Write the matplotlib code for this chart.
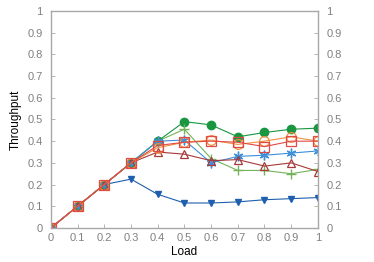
import matplotlib.pyplot as plt
import numpy as np

plt.rcParams['font.family'] = ['Liberation Sans', 'DejaVu Sans']

load = [0, 0.1, 0.2, 0.3, 0.4, 0.5, 0.6, 0.7, 0.8, 0.9, 1.0]

tri_down = [0, 0.1, 0.2, 0.225, 0.155, 0.115, 0.115, 0.12, 0.13, 0.135, 0.14]
green_dot = [0, 0.1, 0.2, 0.3, 0.4, 0.49, 0.475, 0.42, 0.44, 0.455, 0.46]
green_plus = [0, 0.1, 0.2, 0.3, 0.4, 0.455, 0.32, 0.265, 0.265, 0.25, 0.27]
blue_star = [0, 0.1, 0.2, 0.3, 0.40, 0.405, 0.30, 0.33, 0.335, 0.345, 0.355]
red_tri = [0, 0.1, 0.2, 0.3, 0.35, 0.34, 0.31, 0.315, 0.285, 0.30, 0.26]
orange_circ = [0, 0.1, 0.2, 0.3, 0.37, 0.395, 0.405, 0.385, 0.40, 0.42, 0.40]
red_sq = [0, 0.1, 0.2, 0.3, 0.38, 0.395, 0.40, 0.395, 0.375, 0.40, 0.40]

fig = plt.figure(figsize=(3.74, 2.62), dpi=100)
ax = fig.add_axes([0.136, 0.130, 0.714, 0.828])

lw = 0.8
ax.plot(load, tri_down, color='#1f5fae', lw=lw, marker='v', ms=5)
ax.plot(load, green_dot, color='#1a9641', lw=lw, marker='o', ms=6)
ax.plot(load, green_plus, color='#73b359', lw=lw, marker='+', ms=7, mew=1)
ax.plot(load, blue_star, color='#3d8fd8', lw=lw, marker=(6, 2, 0), ms=7, mew=1)
ax.plot(load, red_tri, color='#a8383a', lw=lw, marker='^', ms=6, mfc='none', mew=0.9)
ax.plot(load, orange_circ, color='#f0903f', lw=lw, marker='o', ms=7, mfc='none', mew=0.9)
ax.plot(load, red_sq, color='#e04a45', lw=lw, marker='s', ms=6.5, mfc='none', mew=0.9)

ax.set_xlim(0, 1)
ax.set_ylim(0, 1)
ticks = np.round(np.arange(0, 1.01, 0.1), 1)
labels = ['0'] + [f'{t:g}' for t in ticks[1:-1]] + ['1']
ax.set_xticks(ticks)
ax.set_xticklabels(labels)
ax.set_yticks(ticks)
ax.set_yticklabels(labels)

for s in ax.spines.values():
    s.set_color('#a8a8a8')
    s.set_linewidth(1.0)
ax.tick_params(axis='both', direction='in', colors='#a8a8a8', labelcolor='#808080',
               labelsize=8, length=3, width=0.6)
ax.tick_params(axis='y', right=True, labelright=True, pad=6)
ax.tick_params(axis='x', pad=4)

ax.set_xlabel('Load', fontsize=8.5, labelpad=2)
ax.set_ylabel('Throughput', fontsize=8.5, labelpad=4)

fig.savefig('out.png', dpi=100)
